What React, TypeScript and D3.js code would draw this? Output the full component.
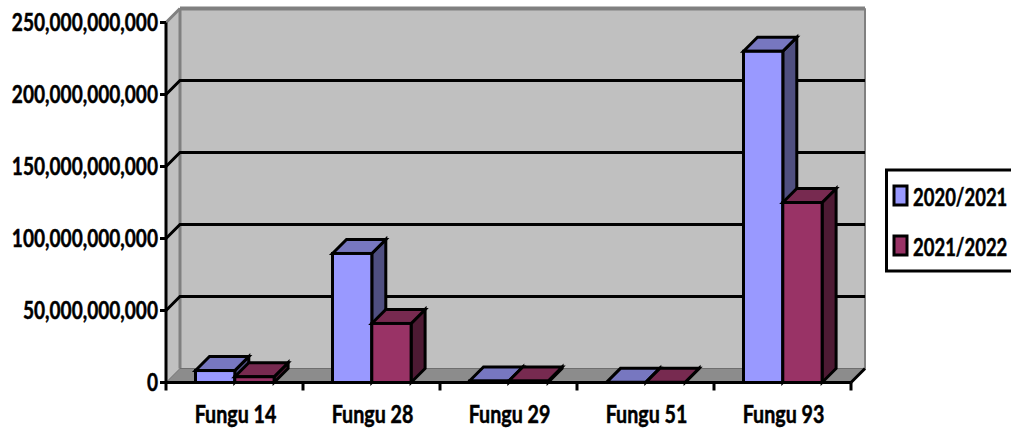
import React from "react";
import * as d3 from "d3";

const categories = ["Fungu 14", "Fungu 28", "Fungu 29", "Fungu 51", "Fungu 93"];
const series2020 = [8.3e9, 89.6e9, 1.0e9, 0.1e9, 230e9];
const series2021 = [4e9, 41e9, 1.0e9, 0.1e9, 125e9];
const seriesNames = ["2020/2021", "2021/2022"];
const yTicks = [0, 50e9, 100e9, 150e9, 200e9, 250e9];

const front = ["#9999ff", "#993366"];
const tops = ["#7777c0", "#772a50"];
const sides = ["#4f4f80", "#4d1a33"];

const FONT = "Lato, 'Open Sans', sans-serif";
const D = 14;

function Label(props: { x: number; y: number; sx: number; anchor?: "start" | "middle" | "end"; children: string }) {
  const { x, y, sx, anchor = "start", children } = props;
  return (
    <text
      transform={`translate(${x},${y}) scale(${sx},1)`}
      textAnchor={anchor}
      fontSize={24}
      stroke="#000"
      strokeWidth={0.5}
    >
      {children}
    </text>
  );
}

export default function App() {
  const y = d3.scaleLinear().domain([0, 250e9]).range([382.5, 22.5]);
  const x = d3.scaleBand().domain(categories).range([166, 851]);
  const fmt = d3.format(",");
  const y0 = y(0);
  const left = 166;
  const right = 851;
  const top = y(250e9);
  const pts = (p: number[][]) => p.map((a) => a.join(",")).join(" ");
  const barW = 39.3;
  const bar = (cat: string, s: number, v: number) => {
    const x0 = (x(cat) as number) + 29.5 + s * barW;
    const x1 = x0 + barW;
    const yt = y(v);
    return (
      <g key={cat + s} stroke="#000" strokeWidth={3} strokeLinejoin="miter">
        <polygon points={pts([[x1, yt], [x1 + D, yt - D], [x1 + D, y0 - D], [x1, y0]])} fill={sides[s]} />
        <polygon points={pts([[x0, yt], [x0 + D, yt - D], [x1 + D, yt - D], [x1, yt]])} fill={tops[s]} />
        {y0 - yt > 1 && <rect x={x0} y={yt} width={barW} height={y0 - yt} fill={front[s]} />}
      </g>
    );
  };
  return (
    <svg width={1011} height={433} style={{ position: "absolute", left: 0, top: 0 }} fontFamily={FONT} fontWeight={700} fill="#000">
      <rect width={1011} height={433} fill="#fff" />
      <polygon points={pts([[left, top], [left + D, top - D], [left + D, y0 - D], [left, y0]])} fill="#c0c0c0" />
      <rect x={left + D} y={top - D} width={right - left} height={y0 - top} fill="#c0c0c0" stroke="#808080" strokeWidth={1} />
      <path d={`M${left + D},${top - D}H${right + D}`} stroke="#808080" strokeWidth={4} />
      <path d={`M${left + D},${top - D}V${y0 - D}`} stroke="#808080" strokeWidth={3} />
      <path d={`M${right + D},${top - D}V${y0 - D}`} stroke="#808080" strokeWidth={2} />
      <path d={`M${left},${top}L${left + D},${top - D}`} stroke="#808080" strokeWidth={3} />
      <polygon points={pts([[left, y0], [left + D, y0 - D], [right + D, y0 - D], [right, y0]])} fill="#8c8c8c" stroke="#6e6e6e" strokeWidth={1} />
      {yTicks.slice(1, -1).map((t) => (
        <path key={t} d={`M${left},${y(t)}L${left + D},${y(t) - D}H${right + D}`} fill="none" stroke="#000" strokeWidth={3} />
      ))}
      <path d={`M${right},${y0}L${right + D},${y0 - D}`} stroke="#000" strokeWidth={3} />
      {categories.map((c, i) => (
        <g key={c}>
          {bar(c, 0, series2020[i])}
          {bar(c, 1, series2021[i])}
        </g>
      ))}
      <path d={`M${left},${top}V${y0}H${right}`} fill="none" stroke="#000" strokeWidth={3} />
      {yTicks.map((t) => (
        <g key={t}>
          <path d={`M${left - 6},${y(t)}H${left}`} stroke="#000" strokeWidth={3} />
          <Label x={158} y={y(t) + 8} sx={0.795} anchor="end">{fmt(t)}</Label>
        </g>
      ))}
      {[...categories.map((c) => x(c) as number), right].map((px) => (
        <path key={px} d={`M${px},${y0}V${y0 + 8}`} stroke="#000" strokeWidth={3} />
      ))}
      {categories.map((c) => (
        <Label key={c} x={(x(c) as number) + 69.5} y={423} sx={0.82} anchor="middle">{c}</Label>
      ))}
      <path d="M1011,170H886.5V271H1011" fill="#fff" stroke="#000" strokeWidth={3} />
      {seriesNames.map((n, i) => (
        <g key={n}>
          <rect x={894} y={186 + i * 50} width={13} height={19} fill={front[i]} stroke="#000" strokeWidth={3} />
          <Label x={913} y={206 + i * 50} sx={0.77}>{n}</Label>
        </g>
      ))}
    </svg>
  );
}
